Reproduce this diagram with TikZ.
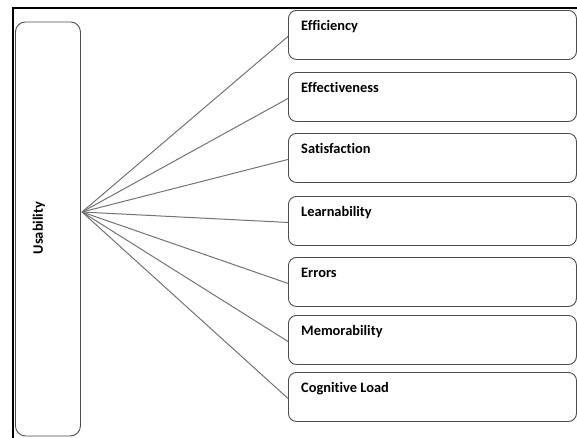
\documentclass[tikz,border=0pt]{standalone}
\usepackage{fontspec}
\setmainfont{Carlito}[RawFeature={-liga;-clig;-dlig}]
\begin{document}
\begin{tikzpicture}[x=1pt,y=-1pt,
  rbox/.style={draw=black!70, line width=0.9pt, rounded corners=8pt, minimum width=288pt, minimum height=49pt, anchor=north west, inner sep=0pt},
  ubox/.style={draw=black!70, line width=0.9pt, rounded corners=10pt, minimum width=65pt, minimum height=414pt, anchor=north west, inner sep=0pt},
  lbl/.style={anchor=base west, inner sep=0pt, font=\fontsize{14.4}{17}\selectfont\bfseries},
  link/.style={draw=black!55, line width=1pt}]
\useasboundingbox (0,0) rectangle (577,437);
\clip (0,0) rectangle (577,437);
\draw[line width=2pt] (13,445) -- (13,7.5) -- (585,7.5);
\node[ubox] (u) at (15,21.5) {};
\node[anchor=center, rotate=90, inner sep=0pt, font=\fontsize{14.4}{17}\selectfont\bfseries] (ut) at (39,228) {Usability};
\coordinate (hub) at (82,212);
\foreach \n/\y/\t in {1/10/Efficiency, 2/72/Effectiveness, 3/133/Satisfaction, 4/196/Learnability, 5/257/Errors, 6/315/Memorability, 7/372/Cognitive Load} {
  \node[rbox] (b\n) at (288,\y) {};
  \node[lbl] (t\n) at ([xshift=13pt,yshift=-20.5pt]b\n.north west) {\t};
  \draw[link] (hub) -- ([yshift=-1.5pt]b\n.west);
}
\end{tikzpicture}
\end{document}
